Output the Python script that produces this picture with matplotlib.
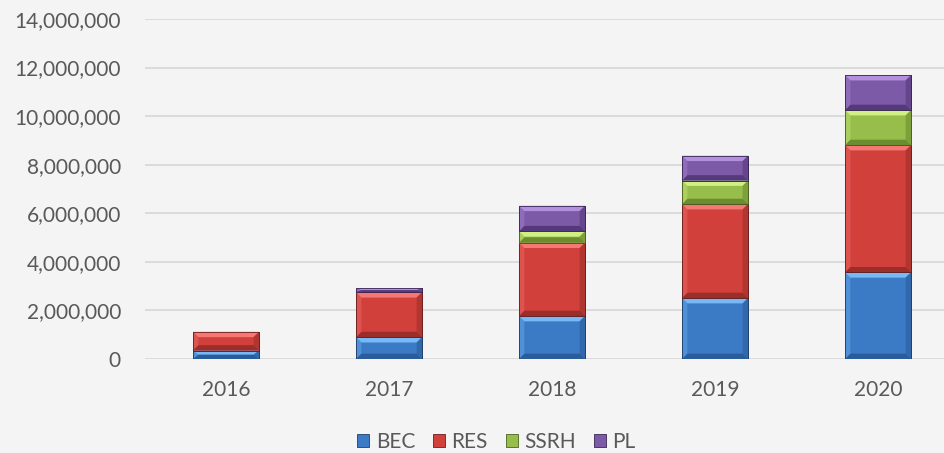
import numpy as np
import matplotlib.pyplot as plt
from matplotlib.patches import Polygon
from matplotlib.ticker import FuncFormatter

# valeurs
years = ['2016', '2017', '2018', '2019', '2020']
bec = [350000, 900000, 1770000, 2510000, 3570000]
res = [770000, 1850000, 3020000, 3870000, 5240000]
ssrh = [0, 0, 470000, 970000, 1440000]
pl = [0, 170000, 1050000, 1020000, 1440000]

series = ['BEC', 'RES', 'SSRH', 'PL']
# (face, haut, bas, contour)
couleurs = {
    'BEC': ('#3B7BC6', '#78B8F4', '#2B5C9A', '#1F3F6A'),
    'RES': ('#D2403C', '#F47874', '#9C2E2A', '#6E1E1C'),
    'SSRH': ('#97BE4A', '#D0F085', '#6C8C30', '#4A6220'),
    'PL': ('#7D5AA8', '#B290DE', '#56397C', '#3A2656'),
}

bg = '#F4F4F4'
fig = plt.figure(figsize=(9.44, 4.53), dpi=100, facecolor=bg)
ax = fig.add_axes([144.5 / 944, 94 / 453, 815 / 944, 340 / 453])
ax.set_facecolor(bg)

x = np.arange(len(years))
largeur = 0.405
bas = np.zeros(len(years))
handles = []
for nom, vals in zip(series, [bec, res, ssrh, pl]):
    face, clair, fonce, bord = couleurs[nom]
    bars = ax.bar(x, vals, largeur, bottom=bas, color=face, edgecolor=bord,
                  linewidth=0.6, zorder=3)
    handles.append(bars)
    # effet biseau
    for b in bars:
        h = b.get_height()
        if h <= 0:
            continue
        x0, y0, w = b.get_x(), b.get_y(), b.get_width()
        dy = min(220000, h / 2)
        dx = 0.033
        x1, y1 = x0 + w, y0 + h
        ax.add_patch(Polygon([(x0, y1), (x1, y1), (x1 - dx, y1 - dy), (x0 + dx, y1 - dy)],
                             closed=True, color=clair, lw=0, zorder=4))
        ax.add_patch(Polygon([(x0, y0), (x1, y0), (x1 - dx, y0 + dy), (x0 + dx, y0 + dy)],
                             closed=True, color=fonce, lw=0, zorder=4))
        ax.add_patch(Polygon([(x0, y0), (x0 + dx, y0 + dy), (x0 + dx, y1 - dy), (x0, y1)],
                             closed=True, color=clair, alpha=0.35, lw=0, zorder=4))
        ax.add_patch(Polygon([(x1, y0), (x1 - dx, y0 + dy), (x1 - dx, y1 - dy), (x1, y1)],
                             closed=True, color=fonce, alpha=0.6, lw=0, zorder=4))
        ax.add_patch(plt.Rectangle((x0, y0), w, h, fill=False, edgecolor=bord,
                                   lw=0.6, zorder=5))
    bas += np.array(vals)

ax.set_xlim(-0.5, 4.5)
ax.set_ylim(0, 14000000)
ax.set_yticks(np.arange(0, 14000001, 2000000))
ax.yaxis.set_major_formatter(FuncFormatter(lambda v, p: f'{int(v):,}'))
ax.set_xticks(x)
ax.set_xticklabels(years)
ax.grid(axis='y', color='#D9D9D9', lw=1.3, zorder=0)
ax.set_axisbelow(True)
for s in ax.spines.values():
    s.set_visible(False)
ax.tick_params(length=0, labelsize=15, colors='#595959')
ax.tick_params(axis='y', pad=17)
ax.tick_params(axis='x', pad=15)
for t in ax.get_xticklabels() + ax.get_yticklabels():
    t.set_family('Lato')

fig.legend(handles, series, loc='center', bbox_to_anchor=(496.5 / 944, 1 - 442 / 453),
           ncol=4, frameon=False, handlelength=0.58, handleheight=0.58,
           handletextpad=0.3, columnspacing=0.87,
           prop={'family': 'Lato', 'size': 15}, labelcolor='#595959')

fig.savefig('out.png', dpi=100, facecolor=bg)
